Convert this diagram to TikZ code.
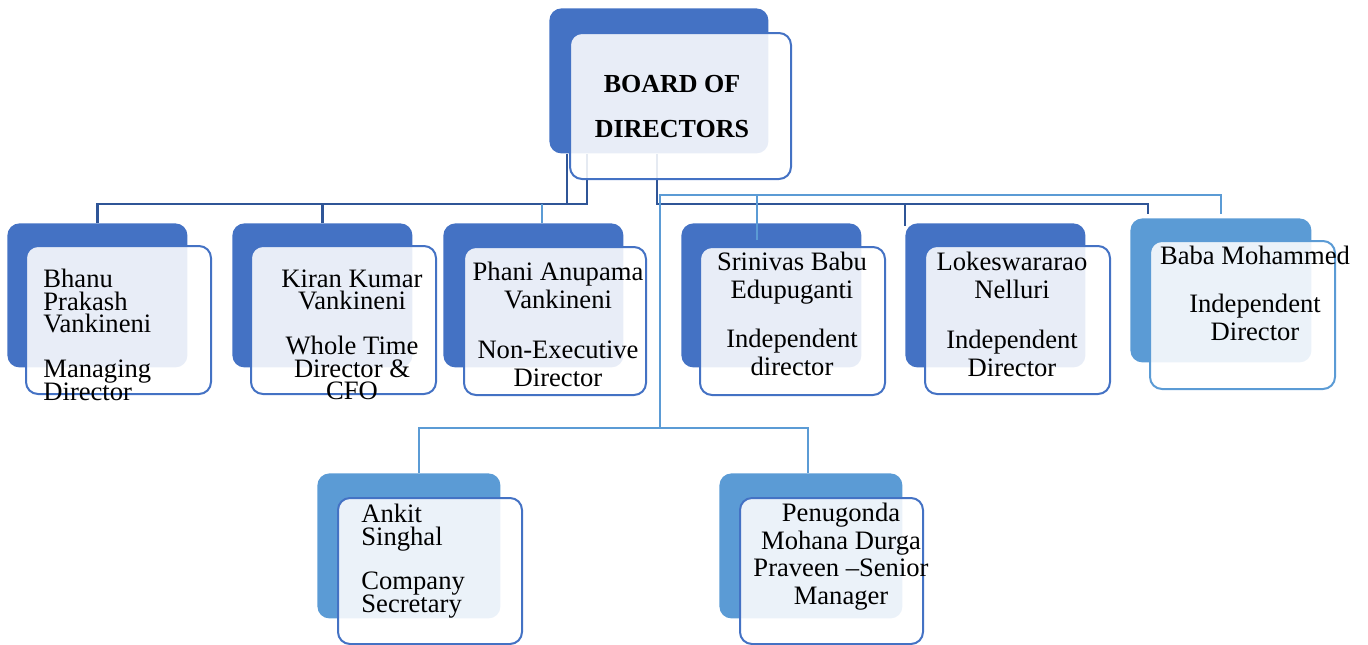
\documentclass[tikz,border=0pt]{standalone}
\usepackage{fontspec}
\setmainfont{Liberation Serif}
\usetikzlibrary{positioning}
\definecolor{accentdark}{HTML}{4472C4}
\definecolor{accentlight}{HTML}{5B9BD5}
\definecolor{linedark}{HTML}{2F5597}
\newcommand{\tightlines}{\lineskiplimit -20pt\relax}

\begin{document}
\begin{tikzpicture}[x=0.5pt, y=-0.5pt,
    backnode/.style={rectangle, rounded corners=6pt, fill=accentdark, anchor=north west, inner sep=0pt, minimum width=90pt, minimum height=72pt},
    frontnode/.style={rectangle, rounded corners=6pt, draw=accentdark, line width=1pt, fill=white, fill opacity=0.88, anchor=north west, inner sep=0pt, minimum width=92.5pt, minimum height=74pt},
    namenode/.style={inner sep=0pt, anchor=north, align=center, font=\fontsize{13.3}{14}\selectfont},
    leftnode/.style={inner sep=0pt, anchor=north west, align=left, font=\fontsize{13.3}{11.25}\selectfont\tightlines},
    darkline/.style={draw=linedark, line width=1.2pt},
    lightline/.style={draw=accentlight, line width=1pt}
    ]
        \useasboundingbox (0,0) rectangle (1368,644);

        %Back boxes
        \node[backnode, minimum width=109.5pt, minimum height=72.5pt]
            (boardB) at (549,8) {};
        \node[backnode] (bhanuB) at (7,223) {};
        \node[backnode] (kiranB) at (232,223) {};
        \node[backnode] (phaniB) at (443,223) {};
        \node[backnode] (srinivasB) at (681,223) {};
        \node[backnode] (lokesB) at (905,223) {};
        \node[backnode, fill=accentlight, minimum width=90.5pt] (babaB) at (1130,218) {};
        \node[backnode, fill=accentlight, minimum width=91.5pt, minimum height=72.5pt]
            (ankitB) at (317,473) {};
        \node[backnode, fill=accentlight, minimum width=91.5pt, minimum height=72.5pt]
            (penuB) at (719,473) {};

        %Lines
        \coordinate (busL) at (587,204);
        \coordinate (busR) at (657,204);
        \coordinate (busT) at (660,195);
        \coordinate (busB) at (660,428);
        \coordinate (srinivasJ) at (757,195);
        \draw[darkline] (bhanuB.north) -- ++(0,-19) -| (busL) -- (busL |- boardB.south);
        \draw[darkline] (kiranB.north) -- ++(0,-19);
        \draw[darkline] ([xshift=9pt]boardB.south west) -- ++(0,51);
        \draw[lightline] ([xshift=4.5pt]phaniB.north) -- ++(0,-19);
        \draw[darkline] (busR |- boardB.south) -- (busR) -| ([xshift=9pt]babaB.north west |- 0,214);
        \draw[darkline] (lokesB.north west |- busR) -- ++(0,22);
        \draw[lightline] (busB) -- (busT) -| ([yshift=2pt]babaB.north);
        \draw[lightline] (srinivasJ) -- ++(0,45);
        \draw[lightline] (ankitB.north -| 419,0) |- (busB) -| ([xshift=-1.5pt]penuB.north);

        %Front boxes
        \node[frontnode, minimum width=110.5pt, minimum height=73pt]
            (boardF) at (569,32) {};
        \node[frontnode] (bhanuF) at (25,245) {};
        \node[frontnode] (kiranF) at (250,245) {};
        \node[frontnode, minimum width=91pt] (phaniF) at (463,246) {};
        \node[frontnode] (srinivasF) at (699,246) {};
        \node[frontnode] (lokesF) at (924,245) {};
        \node[frontnode, draw=accentlight] (babaF) at (1149,240) {};
        \node[frontnode, minimum width=92pt, minimum height=73pt] (ankitF) at (337,497) {};
        \node[frontnode, minimum width=91.5pt, minimum height=73pt] (penuF) at (739,497) {};

        %Texts
        \node[namenode, font=\bfseries\fontsize{13}{22.5}\selectfont]
            (boardT) at (672,75) {BOARD OF\\DIRECTORS};
        \node[leftnode] (bhanuT) at (43,269)
            {Bhanu\\Prakash\\Vankineni\\[11.25pt]Managing\\Director};
        \node[namenode, font=\fontsize{13.3}{11.25}\selectfont\tightlines] (kiranT) at (352,269)
            {Kiran Kumar\\Vankineni\\[11.25pt]Whole Time\\Director \&\\CFO};
        \node[namenode] (phaniT) at (558,262)
            {Phani Anupama\\Vankineni\\[11pt]Non-Executive\\Director};
        \node[namenode] (srinivasT) at (792,252)
            {Srinivas Babu\\Edupuganti\\[10.5pt]Independent\\director};
        \node[namenode] (lokesT) at (1012,252)
            {Lokeswararao\\Nelluri\\[11pt]Independent\\Director};
        \node[namenode] (babaT) at (1255,246)
            {Baba Mohammed\\[10pt]Independent\\Director};
        \node[leftnode] (ankitT) at (361,504)
            {Ankit\\Singhal\\[11pt]Company\\Secretary};
        \node[namenode, font=\fontsize{13.3}{13.75}\selectfont] (penuT) at (841,503)
            {Penugonda\\Mohana Durga\\Praveen –Senior\\Manager};
    \end{tikzpicture}
\end{document}
